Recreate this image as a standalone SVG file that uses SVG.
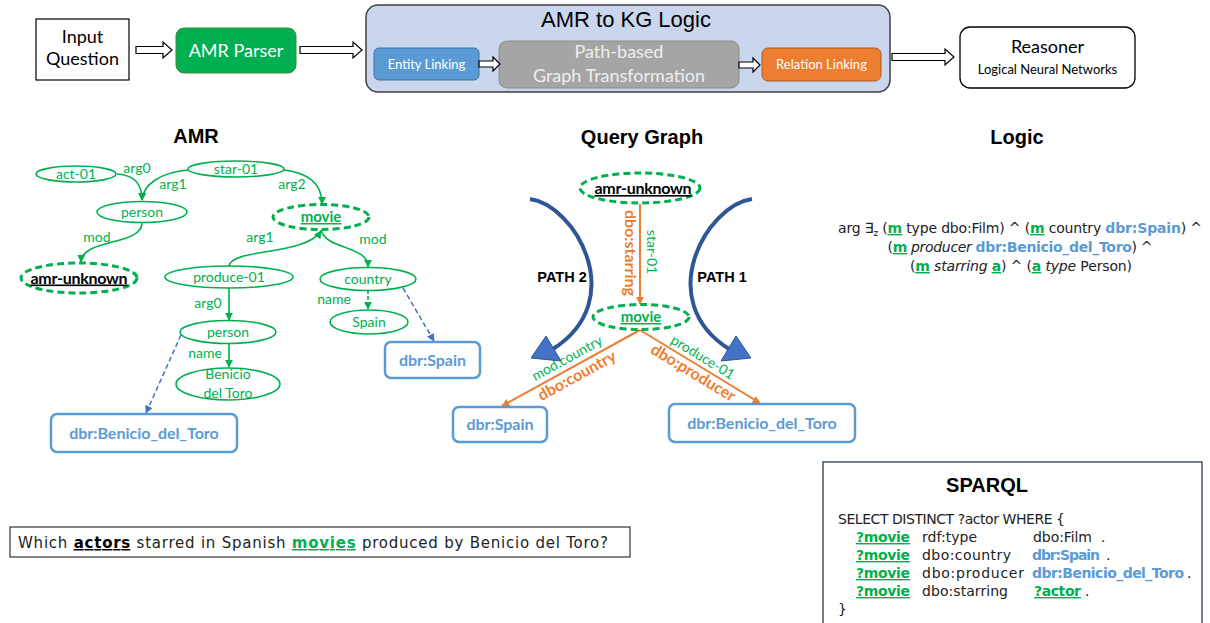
<svg xmlns="http://www.w3.org/2000/svg" width="1210" height="623" viewBox="0 0 1210 623">
<style>
.cal{font-family:Lato,"Open Sans",sans-serif}
.ari{font-family:"Liberation Sans",Arial,sans-serif}
.cg{font-family:"DejaVu Sans",sans-serif}
.title{font-family:"Liberation Sans",Arial,sans-serif;font-weight:bold;font-size:20px;fill:#000;text-anchor:middle}
.gl{font-family:Lato,sans-serif;font-size:14px;fill:#00b050;text-anchor:middle}
.gel{fill:none;stroke:#00b050;stroke-width:1.6}
.gdash{fill:none;stroke:#00b050;stroke-width:3;stroke-dasharray:7 4}
.ge{fill:none;stroke:#00b050;stroke-width:1.6}
.oe{fill:none;stroke:#ed7d31;stroke-width:2}
.be{fill:none;stroke:#4472c4;stroke-width:1.5;stroke-dasharray:5 3}
.dbr{fill:#fff;stroke:#5b9bd5;stroke-width:2.5}
.dbrt{font-family:Lato,sans-serif;font-weight:bold;font-size:16px;fill:#5b9bd5;text-anchor:middle}
.unk{font-family:Lato,sans-serif;font-weight:bold;font-size:16px;fill:#000;text-anchor:middle;text-decoration:underline}
.mov{font-family:Lato,sans-serif;font-weight:bold;font-size:15px;fill:#00b050;text-anchor:middle;text-decoration:underline}
.hollow{fill:#fff;stroke:#000;stroke-width:1.2}
.gm{font-weight:bold;fill:#00b050;text-decoration:underline}
.bb{font-weight:bold;fill:#5b9bd5}
.path{fill:none;stroke:#2f5597;stroke-width:4}
.ph{fill:#4472c4;stroke:#2f5597;stroke-width:1}
</style>
<defs>
<marker id="ag" viewBox="0 0 10 10" refX="9" refY="5" markerWidth="8" markerHeight="8" markerUnits="userSpaceOnUse" orient="auto"><path d="M0,0 L10,5 L0,10 z" fill="#00b050"/></marker>
<marker id="ao" viewBox="0 0 10 10" refX="9" refY="5" markerWidth="8" markerHeight="8" markerUnits="userSpaceOnUse" orient="auto"><path d="M0,0 L10,5 L0,10 z" fill="#ed7d31"/></marker>
<marker id="ab" viewBox="0 0 10 10" refX="9" refY="5" markerWidth="8" markerHeight="8" markerUnits="userSpaceOnUse" orient="auto"><path d="M0,0 L10,5 L0,10 z" fill="#4472c4"/></marker>
</defs>
<rect width="1210" height="623" fill="#fff"/>

<!-- top pipeline -->
<g id="input-question">
<rect x="36" y="19" width="93" height="61" fill="#fff" stroke="#000" stroke-width="1.2"/>
<text class="cal" x="82.5" y="43" font-size="18" text-anchor="middle">Input</text>
<text class="cal" x="82.5" y="65" font-size="18" text-anchor="middle">Question</text>
</g>
<g id="amr-parser">
<rect x="176" y="28" width="120" height="45" rx="8" fill="#00b050" stroke="#3c8c3c" stroke-width="1"/>
<text class="cal" x="236" y="57" font-size="18" fill="#fff" text-anchor="middle">AMR Parser</text>
</g>
<g id="amr-to-kg">
<rect x="366" y="5" width="524" height="87" rx="12" fill="#cad6ee" stroke="#404040" stroke-width="1.5"/>
<text class="ari" x="626" y="27" font-size="22" text-anchor="middle">AMR to KG Logic</text>
</g>
<g id="entity-linking">
<rect x="374" y="48" width="105" height="32" rx="5" fill="#5b9bd5" stroke="#41719c" stroke-width="1"/>
<text class="cal" x="426.5" y="68.5" font-size="13" fill="#fff" text-anchor="middle">Entity Linking</text>
</g>
<g id="graph-transformation">
<rect x="499" y="41" width="240" height="47" rx="8" fill="#a5a5a5" stroke="#8c8c8c" stroke-width="1"/>
<text class="cal" x="619" y="58" font-size="18" fill="#eeeeee" text-anchor="middle">Path-based</text>
<text class="cal" x="619" y="82" font-size="18" fill="#eeeeee" text-anchor="middle">Graph Transformation</text>
</g>
<g id="relation-linking">
<rect x="762" y="48" width="119" height="33" rx="6" fill="#ed7d31" stroke="#ae5a21" stroke-width="1"/>
<text class="cal" x="821.5" y="69" font-size="13" fill="#fff" text-anchor="middle">Relation Linking</text>
</g>
<g id="reasoner">
<rect x="960" y="27" width="175" height="61" rx="10" fill="#fff" stroke="#000" stroke-width="1.3"/>
<text class="cal" x="1047.5" y="53" font-size="18" text-anchor="middle">Reasoner</text>
<text class="cal" x="1047.5" y="74" font-size="13" text-anchor="middle">Logical Neural Networks</text>
</g>

<g id="pipeline-arrows">
<path class="hollow" d="M136,46.5 H163 V42 L172,50 L163,58 V53.5 H136 Z"/>
<path class="hollow" d="M300,46.5 H353 V42 L362,50 L353,58 V53.5 H300 Z"/>
<path class="hollow" d="M479,61 H493 V57 L500,64 L493,71 V67 H479 Z"/>
<path class="hollow" d="M739,62 H753 V58 L760,65 L753,72 V68 H739 Z"/>
<path class="hollow" d="M892,53.5 H945 V49 L954,57 L945,65 V60.5 H892 Z"/>
</g>

<!-- section titles -->
<text class="title" x="196" y="143">AMR</text>
<text class="title" x="642" y="144">Query Graph</text>
<text class="title" x="1017" y="144">Logic</text>

<!-- AMR graph -->
<g id="amr-connectors">
<path class="ge" d="M117,174 C135,175 142,184 142,200" marker-end="url(#ag)"/>
<path class="ge" d="M188,170 C162,172 143,184 142,200" marker-end="url(#ag)"/>
<path class="ge" d="M142,223 C142,246 82,238 81,262" marker-end="url(#ag)"/>
<path class="ge" d="M284,170 C310,173 322,185 322,204" marker-end="url(#ag)"/>
<path class="ge" d="M229,266 C232,248 305,256 321,231" marker-end="url(#ag)"/>
<path class="ge" d="M321,230 C326,250 368,245 368,267" marker-end="url(#ag)"/>
<path class="ge" d="M368,290 V309" stroke-dasharray="4 2" marker-end="url(#ag)"/>
<path class="ge" d="M229,288 V320" marker-end="url(#ag)"/>
<path class="ge" d="M229,343 V367" marker-end="url(#ag)"/>
<path class="be" d="M403,288 L434,341" marker-end="url(#ab)"/>
<path class="be" d="M181,335 L146,413" marker-end="url(#ab)"/>
<text class="gl" x="137" y="173">arg0</text>
<text class="gl" x="173" y="189">arg1</text>
<text class="gl" x="292" y="189">arg2</text>
<text class="gl" x="97" y="242">mod</text>
<text class="gl" x="260" y="242">arg1</text>
<text class="gl" x="373" y="244">mod</text>
<text class="gl" x="334" y="304">name</text>
<text class="gl" x="208" y="308">arg0</text>
<text class="gl" x="205" y="358">name</text>
</g>
<g id="amr-act-01"><ellipse class="gel" cx="76" cy="174" rx="40" ry="8"/><text class="gl" x="76" y="179">act-01</text></g>
<g id="amr-star-01"><ellipse class="gel" cx="236" cy="169" rx="48" ry="8"/><text class="gl" x="236" y="174">star-01</text></g>
<g id="amr-person"><ellipse class="gel" cx="142" cy="212" rx="45" ry="10.5"/><text class="gl" x="142" y="217">person</text></g>
<g id="amr-amr-unknown"><ellipse class="gdash" cx="79" cy="278" rx="58" ry="15"/><text class="unk" x="79" y="283.5" textLength="97">amr-unknown</text></g>
<g id="amr-movie"><ellipse class="gdash" cx="321" cy="217" rx="48" ry="12.5"/><text class="mov" x="321" y="222">movie</text></g>
<g id="amr-produce-01"><ellipse class="gel" cx="229" cy="277" rx="64" ry="11"/><text class="gl" x="229" y="282">produce-01</text></g>
<g id="amr-country"><ellipse class="gel" cx="368" cy="279" rx="48" ry="11.5"/><text class="gl" x="368" y="284">country</text></g>
<g id="amr-spain"><ellipse class="gel" cx="369" cy="322" rx="39" ry="12"/><text class="gl" x="369" y="327">Spain</text></g>
<g id="amr-person2"><ellipse class="gel" cx="228" cy="332" rx="48" ry="11.5"/><text class="gl" x="228" y="337">person</text></g>
<g id="amr-benicio"><ellipse class="gel" cx="228" cy="384" rx="52" ry="16"/><text class="gl" x="228" y="379">Benicio</text><text class="gl" x="228" y="398">del Toro</text></g>
<g id="amr-dbr-spain"><rect class="dbr" x="385" y="342" width="95" height="36" rx="6"/><text class="dbrt" x="432.5" y="366">dbr:Spain</text></g>
<g id="amr-dbr-benicio"><rect class="dbr" x="51" y="414" width="186" height="38" rx="6"/><text class="dbrt" x="144" y="439">dbr:Benicio_del_Toro</text></g>

<!-- Query graph -->
<g id="query-connectors">
<path class="path" d="M530,199 C575,205 630,300 553,349"/>
<polygon class="ph" points="531,358 546,336 561,361"/>
<path class="path" d="M752,199 C707,205 652,300 729,349"/>
<polygon class="ph" points="751,358 736,336 721,361"/>
<path class="oe" d="M640,204 V304" marker-end="url(#ao)"/>
<path class="oe" d="M640,330 L502,406" marker-end="url(#ao)"/>
<path class="oe" d="M640,330 L760,403" marker-end="url(#ao)"/>
<text class="cal" font-size="16" font-weight="bold" fill="#ed7d31" text-anchor="middle" transform="translate(625,253) rotate(90)">dbo:starring</text>
<text class="cal" font-size="14" fill="#00b050" text-anchor="middle" transform="translate(647,252) rotate(90)">star-01</text>
<text class="cal" font-size="14" fill="#00b050" text-anchor="middle" transform="translate(567,358) rotate(-28.8)" dy="5">mod.country</text>
<text class="cal" font-size="16" font-weight="bold" fill="#ed7d31" text-anchor="middle" transform="translate(577,376) rotate(-28.8)" dy="5">dbo:country</text>
<text class="cal" font-size="14" fill="#00b050" text-anchor="middle" transform="translate(703,357) rotate(31.3)" dy="5">produce-01</text>
<text class="cal" font-size="16" font-weight="bold" fill="#ed7d31" text-anchor="middle" transform="translate(693,373) rotate(31.3)" dy="5">dbo:producer</text>
<text class="ari" x="562" y="282" font-size="14.5" font-weight="bold" text-anchor="middle">PATH 2</text>
<text class="ari" x="722" y="282" font-size="14.5" font-weight="bold" text-anchor="middle">PATH 1</text>
</g>
<g id="qg-amr-unknown"><ellipse class="gdash" cx="640" cy="188" rx="60" ry="15"/><text class="unk" x="643" y="194" textLength="97">amr-unknown</text></g>
<g id="qg-movie"><ellipse class="gdash" cx="641" cy="317" rx="48" ry="12.5"/><text class="mov" x="641" y="322">movie</text></g>
<g id="qg-dbr-spain"><rect class="dbr" x="453" y="407" width="94" height="35" rx="6"/><text class="dbrt" x="500" y="430">dbr:Spain</text></g>
<g id="qg-dbr-benicio"><rect class="dbr" x="669" y="404" width="186" height="38" rx="6"/><text class="dbrt" x="762" y="429">dbr:Benicio_del_Toro</text></g>

<!-- Logic -->
<g id="logic" class="cg" font-size="14" fill="#222">
<text x="1020" y="233" text-anchor="middle" textLength="364">arg ∃<tspan dy="3" font-size="9">z</tspan><tspan dy="-3"> (</tspan><tspan class="gm">m</tspan> type dbo:Film) ^ (<tspan class="gm">m</tspan> country <tspan class="bb">dbr:Spain</tspan>) ^</text>
<text x="1020" y="252" text-anchor="middle" textLength="265">(<tspan class="gm">m</tspan> <tspan font-style="italic">producer</tspan> <tspan class="bb">dbr:Benicio_del_Toro</tspan>) ^</text>
<text x="1021" y="271" text-anchor="middle" textLength="222">(<tspan class="gm">m</tspan> <tspan font-style="italic">starring</tspan> <tspan class="gm">a</tspan>) ^ (<tspan class="gm">a</tspan> <tspan font-style="italic">type</tspan> Person)</text>
</g>

<!-- SPARQL -->
<g id="sparql">
<rect x="823" y="462" width="379" height="170" fill="#fff" stroke="#44546a" stroke-width="1.5"/>
<text class="title" x="987" y="492">SPARQL</text>
<g class="cg" font-size="14" fill="#222">
<text x="838" y="524" textLength="227">SELECT DISTINCT ?actor WHERE {</text>
<text x="856" y="542" class="gm" textLength="54">?movie</text>
<text x="922" y="542" textLength="55">rdf:type</text>
<text x="1033" y="542" textLength="59">dbo:Film</text>
<text x="1101" y="542">.</text>
<text x="856" y="560" class="gm" textLength="54">?movie</text>
<text x="922" y="560" textLength="89">dbo:country</text>
<text x="1032" y="560" class="bb" textLength="68">dbr:Spain</text>
<text x="1106" y="560">.</text>
<text x="856" y="578" class="gm" textLength="54">?movie</text>
<text x="922" y="578" textLength="102">dbo:producer</text>
<text x="1032" y="578" class="bb" textLength="152">dbr:Benicio_del_Toro</text>
<text x="1187" y="578">.</text>
<text x="856" y="596" class="gm" textLength="54">?movie</text>
<text x="922" y="596" textLength="86">dbo:starring</text>
<text x="1034" y="596" class="gm" textLength="47">?actor</text>
<text x="1085" y="596">.</text>
<text x="838" y="614">}</text>
</g>
</g>

<!-- Question -->
<g id="question">
<rect x="10" y="527" width="620" height="30" fill="#fff" stroke="#333" stroke-width="1.2"/>
<text class="cg" x="18" y="548" font-size="15" fill="#222" textLength="590">Which <tspan font-weight="bold" fill="#000" text-decoration="underline">actors</tspan> starred in Spanish <tspan font-weight="bold" fill="#00b050" text-decoration="underline">movies</tspan> produced by Benicio del Toro?</text>
</g>
</svg>
